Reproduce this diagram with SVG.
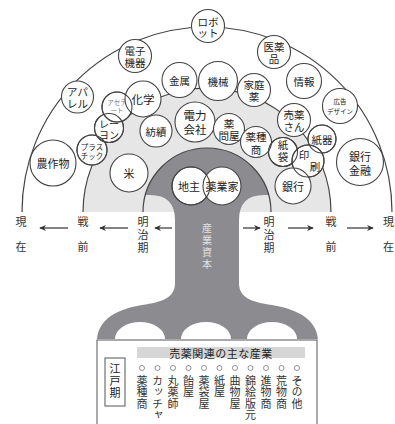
<svg xmlns="http://www.w3.org/2000/svg" width="395" height="424" viewBox="0 0 395 424">
<defs>
<style>
text{font-family:"Noto Sans CJK JP","Noto Sans CJK SC",sans-serif;fill:#222;font-size:10.5px;text-anchor:middle;dominant-baseline:central}
.n{fill:#fff;stroke:#444;stroke-width:1.1}
.o{fill:none;stroke:#444;stroke-width:1.1}
.arc{fill:none;stroke:#444;stroke-width:1.2}
.sm{font-size:6.5px}
.v{writing-mode:vertical-rl;text-orientation:upright;text-anchor:start;font-size:11px;fill:#333}
.c{letter-spacing:0.5px}
.ar{stroke:#333;stroke-width:1.2;fill:none;marker-end:url(#ah)}
</style>
<marker id="ah" viewBox="0 0 8 8" refX="7" refY="4" markerWidth="7" markerHeight="7" markerUnits="userSpaceOnUse" orient="auto">
<path d="M0,0.5 L8,4 L0,7.5 L2.5,4 Z" fill="#333"/>
</marker>
</defs>
<rect width="395" height="424" fill="#fff"/>
<g id="background">
<path d="M83,212 A124 124 0 0 1 331,212 Z" fill="#e6e6e6" stroke="none"/>
<path class="arc" d="M83,212 A124 124 0 0 1 331,212"/>
<path class="arc" d="M22,212 A185 185 0 0 1 392,212"/>
<path d="M145.3,195 A64 64 0 0 1 268.7,195 L264,195 Q239,195 239,220 L239,283 C239,298 252,302 272,305 C300,310 316,320 318,339 L297,339 A25 17 0 0 0 247,339 L231,339 A25 17 0 0 0 181,339 L165,339 A25 17 0 0 0 115,339 L97,339 C99,320 114,310 142,305 C162,302 175,298 175,283 L175,220 Q175,195 150,195 Z" fill="#8c8c90"/>
<path class="arc" d="M143,212 A64 64 0 0 1 271,212"/>
<text class="v" x="207" y="223" style="fill:#e2e2e2;font-size:10px;letter-spacing:2px">産業資本</text>
</g>
<g id="connectors">
<line class="ar" x1="172" y1="228" x2="155" y2="228"/>
<line class="ar" x1="128" y1="228" x2="100" y2="228"/>
<line class="ar" x1="68" y1="228" x2="40" y2="228"/>
<line class="ar" x1="243" y1="228" x2="260" y2="228"/>
<line class="ar" x1="288" y1="228" x2="313" y2="228"/>
<line class="ar" x1="347" y1="228" x2="373" y2="228"/>
</g>
<g id="era-labels">
<text class="v" x="143" y="216.5" style="letter-spacing:2px">明治期</text>
<text class="v" x="269" y="216.5" style="letter-spacing:2px">明治期</text>
<text class="v" x="83" y="216.5" style="letter-spacing:14px">戦前</text>
<text class="v" x="331" y="216.5" style="letter-spacing:14px">戦前</text>
<text class="v" x="21" y="216.5" style="letter-spacing:14px">現在</text>
<text class="v" x="388.5" y="216.5" style="letter-spacing:14px">現在</text>
</g>
<g id="n-robot"><circle class="n" cx="208" cy="26" r="16.5"/><text><tspan x="208" y="20.5">ロボ</tspan><tspan x="208" y="32">ット</tspan></text></g>
<g id="n-denshi"><circle class="n" cx="135" cy="56" r="16.5"/><text><tspan x="135" y="50">電子</tspan><tspan x="135" y="62">機器</tspan></text></g>
<g id="n-iyaku"><circle class="n" cx="274" cy="52" r="16.5"/><text><tspan x="274" y="46">医薬</tspan><tspan x="274" y="58">品</tspan></text></g>
<g id="n-apparel"><circle class="n" cx="77.5" cy="97" r="16"/><text><tspan x="77.5" y="91">アパ</tspan><tspan x="77.5" y="103">レル</tspan></text></g>
<g id="n-joho"><circle class="n" cx="304" cy="81" r="17.5"/><text x="304" y="81">情報</text></g>
<g id="n-kokoku"><circle class="n" cx="340" cy="106" r="17.5"/><text class="sm"><tspan x="340" y="101">広告</tspan><tspan x="340" y="110.5">デザイン</tspan></text></g>
<g id="n-kinzoku"><circle class="n" cx="179.5" cy="80" r="17.5"/><text x="179.5" y="80">金属</text></g>
<g id="n-kikai"><circle class="n" cx="218" cy="81" r="19.5"/><text x="218" y="81">機械</text></g>
<g id="n-kateiyaku"><circle class="n" cx="254" cy="90" r="16.5"/><text><tspan x="254" y="84">家庭</tspan><tspan x="254" y="96">薬</tspan></text></g>
<g id="n-plastic"><circle class="n" cx="92" cy="150" r="15"/><text style="font-size:7.5px"><tspan x="92" y="146">プラス</tspan><tspan x="92" y="155">チック</tspan></text></g>
<g id="n-rayon"><circle class="n" cx="109" cy="128" r="14.5"/><text style="font-size:10px"><tspan x="109" y="122.5">レー</tspan><tspan x="109" y="134">ヨン</tspan></text></g>
<g id="n-acetate"><circle class="n" cx="117" cy="107" r="15"/><text class="sm" style="fill:#777"><tspan x="117" y="101.5">アセテ</tspan><tspan x="117" y="109.5">ート</tspan></text></g>
<g id="n-kagaku"><circle class="n" cx="143" cy="99" r="18"/><text x="143" y="99" style="font-size:11.5px">化学</text></g>
<g id="n-nousakubutsu"><circle class="n" cx="53" cy="163" r="23"/><text x="53" y="163" style="font-size:11px">農作物</text></g>
<g id="n-baiyakusan"><circle class="n" cx="294" cy="120" r="16.5"/><text><tspan x="294" y="114">売薬</tspan><tspan x="294" y="126">さん</tspan></text></g>
<g id="n-kamibukuro"><circle class="n" cx="283" cy="152" r="14.5"/><text class="v" x="283" y="140" style="font-size:10.5px;fill:#222;letter-spacing:1.5px">紙袋</text></g>
<g id="n-shiki"><circle class="n" cx="322" cy="139" r="14"/><text x="322" y="139">紙器</text></g>
<g id="n-insatsu"><circle class="n" cx="308" cy="161" r="16"/><text><tspan x="304" y="154">印</tspan><tspan x="315" y="166">刷</tspan></text></g>
<g id="n-ginko"><circle class="n" cx="293" cy="186" r="18"/><text x="293" y="186" style="font-size:11px">銀行</text></g>
<g id="n-ginkokinyu"><circle class="n" cx="360" cy="162" r="23.5"/><text style="font-size:11px"><tspan x="360" y="155.5">銀行</tspan><tspan x="360" y="169.5">金融</tspan></text></g>
<g id="n-boseki"><circle class="n" cx="156" cy="131" r="16"/><text x="156" y="131">紡績</text></g>
<g id="n-denryoku"><circle class="n" cx="195" cy="122" r="20"/><text style="font-size:11.5px"><tspan x="195" y="115">電力</tspan><tspan x="195" y="129">会社</tspan></text></g>
<g id="n-kusuridonya"><circle class="n" cx="229" cy="129" r="15.5"/><text><tspan x="229" y="122.5">薬</tspan><tspan x="229" y="135">問屋</tspan></text></g>
<g id="n-yakushusho"><circle class="n" cx="256" cy="142" r="15.5"/><text><tspan x="256" y="136">薬種</tspan><tspan x="256" y="148.5">商</tspan></text></g>
<g id="n-kome"><circle class="n" cx="129" cy="173" r="19"/><text x="129" y="173" style="font-size:11px">米</text></g>
<g id="n-jinushi"><circle class="n" cx="191" cy="186" r="19"/><text x="189" y="186" style="font-size:11px">地主</text></g>
<g id="n-yakugyoka"><circle class="n" cx="222" cy="186" r="19"/><text x="222" y="186" style="font-size:11px">薬業家</text></g>
<g id="overlap-outlines">
<circle class="o" cx="92" cy="150" r="15"/>
<circle class="o" cx="109" cy="128" r="14.5"/>
<circle class="o" cx="117" cy="107" r="15"/>
<circle class="o" cx="283" cy="152" r="14.5"/>
<circle class="o" cx="322" cy="139" r="14"/>
<circle class="o" cx="308" cy="161" r="16"/>
<circle class="o" cx="191" cy="186" r="19"/>
</g>
<g id="edo-box">
<rect x="97" y="340" width="220" height="95" fill="#fff" stroke="#555" stroke-width="1"/>
<rect x="137" y="347" width="168" height="11" fill="#d6d6d6"/>
<text x="221" y="352.5" style="font-size:11px;letter-spacing:0.5px">売薬関連の主な産業</text>
<rect x="105" y="358" width="20" height="48" fill="#fff" stroke="#555" stroke-width="1"/>
<text class="v" x="115" y="363.5" style="letter-spacing:1px;fill:#222">江戸期</text>
<g fill="#fff" stroke="#777" stroke-width="0.8">
<circle cx="142" cy="368" r="2.5"/><circle cx="157.5" cy="368" r="2.5"/><circle cx="173" cy="368" r="2.5"/><circle cx="188.5" cy="368" r="2.5"/><circle cx="204" cy="368" r="2.5"/><circle cx="219.5" cy="368" r="2.5"/><circle cx="235" cy="368" r="2.5"/><circle cx="250.5" cy="368" r="2.5"/><circle cx="266" cy="368" r="2.5"/><circle cx="281.5" cy="368" r="2.5"/><circle cx="297" cy="368" r="2.5"/>
</g>
<text class="v c" x="142" y="375">薬種商</text>
<text class="v c" x="157.5" y="375">カッチャ</text>
<text class="v c" x="173" y="375">丸薬師</text>
<text class="v c" x="188.5" y="375">飴屋</text>
<text class="v c" x="204" y="375">薬袋屋</text>
<text class="v c" x="219.5" y="375">紙屋</text>
<text class="v c" x="235" y="375">曲物屋</text>
<text class="v c" x="250.5" y="375">錦絵版元</text>
<text class="v c" x="266" y="375">進物商</text>
<text class="v c" x="281.5" y="375">荒物商</text>
<text class="v c" x="297" y="375">その他</text>
</g>
</svg>
